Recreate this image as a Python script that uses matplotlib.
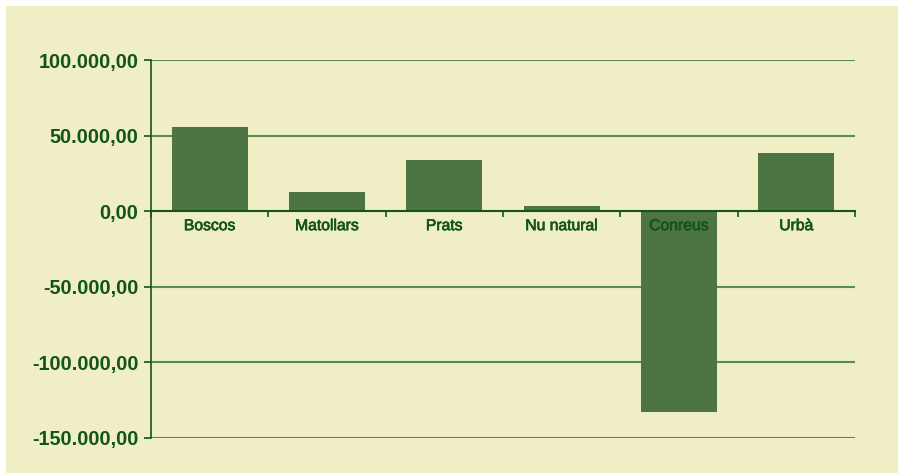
import matplotlib.pyplot as plt
from matplotlib.patches import Rectangle
from matplotlib.ticker import FuncFormatter
import matplotlib.patheffects as pe

# Data
categories = ['Boscos', 'Matollars', 'Prats', 'Nu natural', 'Conreus', 'Urbà']
values = [55600, 12600, 33800, 3300, -133100, 38400]
yticks = [-150000, -100000, -50000, 0, 50000, 100000]

bg = '#f0eec5'
bar_color = '#4d7443'
text_color = '#12551a'
grid_color = '#5a8a52'

plt.rcParams['font.family'] = ['Liberation Sans', 'DejaVu Sans']

fig = plt.figure(figsize=(8.98, 4.75), dpi=100)
fig.patch.set_facecolor('white')
# cream panel behind the chart
fig.patches.append(Rectangle((6 / 898, 2 / 475), 892 / 898, 467 / 475,
                             transform=fig.transFigure, facecolor=bg,
                             edgecolor='none', zorder=-5))

ax = fig.add_axes([151 / 898, 37 / 475, 704 / 898, 378 / 475])
ax.set_facecolor('none')

x = list(range(len(categories)))
ax.bar(x, values, width=0.65, color=bar_color, zorder=2)

# horizontal gridlines under the bars
for v in yticks:
    if v != 0:
        ax.axhline(v, color=grid_color, lw=1.5, zorder=1)

ax.set_xlim(-0.5, len(categories) - 0.5)
ax.set_ylim(-150000, 100000)

def fmt(v, pos):
    s = f'{v:,.2f}'
    return s.replace(',', 'X').replace('.', ',').replace('X', '.')

ax.set_yticks(yticks)
ax.yaxis.set_major_formatter(FuncFormatter(fmt))
ax.tick_params(axis='y', direction='out', length=5, width=1.2, color=text_color,
               pad=4, labelsize=14.3, labelcolor=text_color)
for lab in ax.get_yticklabels():
    lab.set_fontweight('bold')

# x axis sits on zero line, ticks at category boundaries
ax.spines['bottom'].set_position(('data', 0))
ax.spines['bottom'].set_color(text_color)
ax.spines['bottom'].set_linewidth(1.5)
ax.spines['left'].set_color(text_color)
ax.spines['left'].set_linewidth(1.2)
ax.spines['top'].set_visible(False)
ax.spines['right'].set_visible(False)

ax.set_xticks([i - 0.5 for i in range(len(categories) + 1)])
ax.set_xticklabels([])
ax.tick_params(axis='x', which='major', direction='out', length=4, width=1.2,
               color=text_color)
ax.set_xticks(x, minor=True)
ax.set_xticklabels(categories, minor=True)
ax.tick_params(axis='x', which='minor', length=0, pad=5, labelsize=11.3,
               labelcolor=text_color)
for lab in ax.get_xticklabels(minor=True):
    lab.set_path_effects([pe.withStroke(linewidth=0.5, foreground=text_color)])
ax.set_axisbelow(False)

plt.savefig('out.png', dpi=100, facecolor=fig.get_facecolor())
